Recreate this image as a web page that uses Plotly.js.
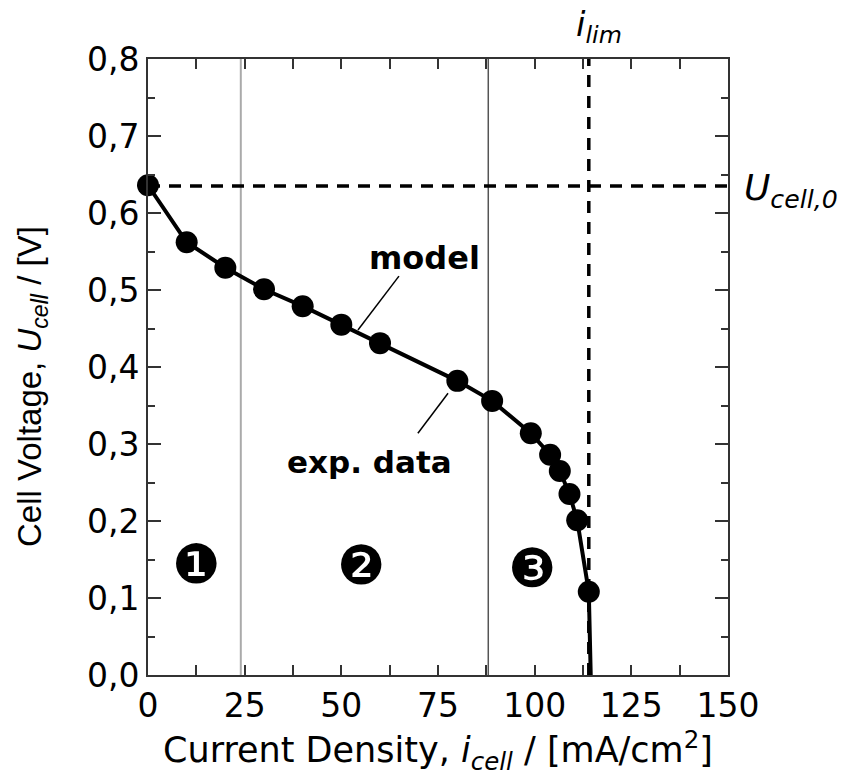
<!DOCTYPE html>
<html>
<head>
<meta charset="utf-8">
<script src="https://cdn.plot.ly/plotly-3.0.1.min.js"></script>
<style>html,body{margin:0;padding:0;background:#fff;}#chart{width:842px;height:782px;}</style>
</head>
<body>
<div id="chart"></div>
<script>
// experimental data
const expCurrent = [0, 10, 20, 30, 40, 50, 60, 80, 89, 99, 104, 106.5, 109, 111, 114];
const expVoltage = [0.636, 0.562, 0.529, 0.501, 0.479, 0.455, 0.431, 0.382, 0.356, 0.314, 0.286, 0.265, 0.235, 0.201, 0.108];
// model curve
const modelCurrent = [0, 10, 20, 30, 40, 50, 60, 80, 89, 99, 104, 106.5, 109, 111, 114, 114.5];
const modelVoltage = [0.636, 0.562, 0.529, 0.501, 0.479, 0.455, 0.431, 0.382, 0.356, 0.314, 0.286, 0.265, 0.235, 0.201, 0.108, 0.0];
// reference values
const iLim = 114;
const uCell0 = 0.635;
const regionBounds = [24, 88];
// ticks
const xTickVals = [0, 25, 50, 75, 100, 125, 150];
const xTickText = ['0', '25', '50', '75', '100', '125', '150'];
const yTickVals = [0, 0.1, 0.2, 0.3, 0.4, 0.5, 0.6, 0.7, 0.8];
const yTickText = ['0,0', '0,1', '0,2', '0,3', '0,4', '0,5', '0,6', '0,7', '0,8'];
// region labels
const regionLabels = ['❶', '❷', '❸'];
const regionLabelX = [12.5, 55.1, 99.3];
const regionLabelY = [0.143, 0.142, 0.138];

const wide = 'DejaVu Sans, sans-serif';
const narrow = 'Liberation Sans, Arial, sans-serif';

const traces = [
  {x: modelCurrent, y: modelVoltage, mode: 'lines', line: {color: '#000', width: 4}, hoverinfo: 'skip', cliponaxis: false},
  {x: expCurrent, y: expVoltage, mode: 'markers', marker: {color: '#000', size: 22}, hoverinfo: 'skip', cliponaxis: false}
];

const shapes = [
  {type: 'line', xref: 'x', yref: 'paper', x0: regionBounds[0], x1: regionBounds[0], y0: 0, y1: 1, line: {color: '#aaa', width: 2}, layer: 'below'},
  {type: 'line', xref: 'x', yref: 'paper', x0: regionBounds[1], x1: regionBounds[1], y0: 0, y1: 1, line: {color: '#555', width: 1.5}, layer: 'below'},
  {type: 'line', xref: 'x', yref: 'paper', x0: iLim, x1: iLim, y0: 0, y1: 1, line: {color: '#000', width: 3.5, dash: '12px,9px'}, layer: 'below'},
  {type: 'line', xref: 'paper', yref: 'y', x0: 0, x1: 1, y0: uCell0, y1: uCell0, line: {color: '#000', width: 3.5, dash: '12px,9px'}, layer: 'below'},
  // pointer lines
  {type: 'line', xref: 'x', yref: 'y', x0: 64.9, y0: 0.518, x1: 54.3, y1: 0.448, line: {color: '#000', width: 1.5}},
  {type: 'line', xref: 'x', yref: 'y', x0: 77.6, y0: 0.366, x1: 69.8, y1: 0.314, line: {color: '#000', width: 1.5}}
];

const annotations = [
  {x: 71.6, y: 0.542, xref: 'x', yref: 'y', text: '<b>model</b>', showarrow: false, font: {family: wide, size: 32, color: '#000'}},
  {x: 57.4, y: 0.277, xref: 'x', yref: 'y', text: '<b>exp. data</b>', showarrow: false, font: {family: wide, size: 31, color: '#000'}},
  {x: iLim, y: 1, xref: 'x', yref: 'paper', yanchor: 'bottom', xshift: 10, yshift: 8, text: '<i>i<sub>lim</sub></i>', showarrow: false, font: {family: wide, size: 34, color: '#000'}},
  {x: 1, y: uCell0, xref: 'paper', yref: 'y', xanchor: 'left', xshift: 14, yshift: -4, text: '<i>U<sub>cell,0</sub></i>', showarrow: false, font: {family: wide, size: 36, color: '#000'}},
  {x: 0, y: 0.5, xref: 'paper', yref: 'paper', xanchor: 'center', yanchor: 'middle', xshift: -116, yshift: -20, textangle: -90,
   text: 'Cell Voltage, <i>U<sub>cell</sub></i> / [V]', showarrow: false, font: {family: narrow, size: 33, color: '#000'}}
];
for (let k = 0; k < regionLabels.length; k++) {
  annotations.push({x: regionLabelX[k], y: regionLabelY[k], xref: 'x', yref: 'y', text: regionLabels[k], showarrow: false, font: {family: 'DejaVu Sans', size: 54, color: '#000'}});
}

const layout = {
  width: 842, height: 782,
  margin: {l: 148, r: 114, t: 59, b: 107, pad: 0},
  paper_bgcolor: '#fff', plot_bgcolor: '#fff',
  showlegend: false,
  font: {family: wide, color: '#000'},
  xaxis: {
    range: [0, 150], tickvals: xTickVals, ticktext: xTickText,
    ticks: 'inside', ticklen: 10, tickwidth: 2, tickcolor: '#333',
    minor: {dtick: 12.5, ticks: 'inside', ticklen: 10, tickwidth: 2, tickcolor: '#333'},
    showline: true, linecolor: '#333', linewidth: 2, mirror: 'ticks',
    showgrid: false, zeroline: false,
    tickfont: {family: wide, size: 33, color: '#000'},
    title: {text: 'Current Density, <i>i<sub>cell</sub></i> / [mA/cm<sup>2</sup>]', font: {family: wide, size: 35, color: '#000'}, standoff: 8}
  },
  yaxis: {
    range: [0, 0.8], tickvals: yTickVals, ticktext: yTickText,
    ticks: 'inside', ticklen: 13, tickwidth: 2, tickcolor: '#333',
    minor: {dtick: 0.05, ticks: 'inside', ticklen: 7, tickwidth: 2, tickcolor: '#333'},
    showline: true, linecolor: '#333', linewidth: 2, mirror: 'ticks',
    showgrid: false, zeroline: false,
    tickfont: {family: wide, size: 33, color: '#000'}
  },
  shapes: shapes,
  annotations: annotations
};

Plotly.newPlot('chart', traces, layout, {displayModeBar: false, staticPlot: true});
</script>
</body>
</html>
